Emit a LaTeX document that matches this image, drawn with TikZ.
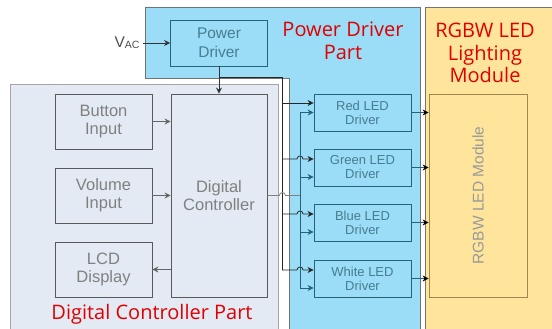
\documentclass[tikz,border=0pt]{standalone}
\usepackage{fontspec}
\setmainfont{Liberation Sans}
\newfontfamily\partfont{Open Sans}
\usetikzlibrary{arrows.meta}
\definecolor{pdblue}{RGB}{155,221,246}
\definecolor{dcgrey}{RGB}{227,234,244}
\definecolor{ledyellow}{RGB}{255,229,156}
\definecolor{wire}{RGB}{38,98,120}
\definecolor{wiretext}{RGB}{70,125,145}
\definecolor{partred}{RGB}{224,0,0}
\definecolor{modline}{RGB}{160,135,80}
\tikzset{
  box/.style={draw=black!65, fill=dcgrey, text=black!50, align=center, inner sep=0pt,
    font=\fontsize{16.5}{18}\selectfont},
  drv/.style={draw=wire, fill=pdblue, text=wiretext, align=center, inner sep=0pt,
    minimum width=97pt, minimum height=37pt, font=\fontsize{13}{14}\selectfont},
  part/.style={text=partred, align=center, font=\partfont\fontsize{20}{22.5}\selectfont},
}
\begin{document}
\begin{tikzpicture}[>={Stealth[length=6pt,width=6pt]}, thick, x=1pt, y=-1pt]
\useasboundingbox (0,0) rectangle (552,329);
\filldraw[fill=dcgrey, draw=black!35] (10,84) rectangle (278,335);
\filldraw[fill=pdblue, draw=black!55] (145,7) -- (420,7) -- (420,335) -- (289,335) -- (289,78) -- (145,78) -- cycle;
\filldraw[fill=ledyellow, draw=black!55] (425,7) rectangle (560,335);

\node[part] (pdpart) at (343,41) {Power Driver\\Part};
\node[part] (ledpart) at (485,53) {RGBW LED\\Lighting\\Module};
\node[part] (dcpart) at (152,314) {Digital Controller Part};

\node[box, minimum width=97pt, minimum height=55pt] (btn) at (103.5,121.5) {Button\\Input};
\node[box, minimum width=97pt, minimum height=55pt] (vol) at (103.5,195.5) {Volume\\Input};
\node[box, minimum width=97pt, minimum height=55pt] (lcd) at (103.5,269.5) {LCD\\Display};
\node[box, minimum width=96pt, minimum height=203pt] (dc) at (219,195.5) {Digital\\Controller};
\node[drv, minimum height=46pt, font=\fontsize{15.5}{19}\selectfont] (pwr) at (219,43) {Power\\Driver};
\node[text=black!70, font=\fontsize{15.5}{16}\selectfont] (vac) at (127,43) {V\raisebox{-1pt}{\fontsize{10.5}{11}\selectfont AC}};
\node[draw=modline, text=black!40, rotate=90, minimum width=203pt, minimum height=98pt,
  font=\fontsize{15.5}{16}\selectfont] (mod) at (478,195.5) {RGBW LED Module};

\foreach \n/\t/\y in {red/Red/112.5, green/Green/167.5, blue/Blue/222.5, white/White/278.5}
{
    \node[drv] (\n) at (362.5,\y) {\t\ LED\\Driver};
    \coordinate (\n-pin) at ([yshift=8.5pt]\n.west);
    \coordinate (\n-cin) at ([yshift=-9.5pt]\n.west);
    \draw[-{Stealth[length=6pt,width=6pt,black]}, wire] (\n) -- (\n -| mod.north);
}

\draw[->, black!80] (vac) -- (pwr);
\draw[->, black!80] (pwr) -- (dc);
\draw[->, black!60] (btn) -- (btn -| dc.west);
\draw[->, black!60] (vol) -- (vol -| dc.west);
\draw[->, black!60] (dc.west |- lcd) -- (lcd);

\coordinate (pbus) at (282,77);
\coordinate (cbus) at (300,112.5);
\draw[black!85] (pwr.south |- pbus) -- (pbus) -- (white-pin -| pbus);
\draw[->, black!85] ([yshift=1pt]red-pin -| pbus) -- ([yshift=1pt]red-pin);
\foreach \n in {green,blue,white}
{
    \draw[->, black!85] (\n-pin -| pbus) -- +(15,0) arc[start angle=180, end angle=0, radius=3pt] -- (\n-pin);
}
\draw[wire] (cbus) -- (white-cin -| cbus);
\draw[->, wire] (cbus) -- (red.west);
\foreach \n in {green,blue,white}
{
    \draw[->, wire] (\n-cin -| cbus) -- (\n-cin);
}
\draw[black!50] (dc.east) -- ++(12,0) arc[start angle=180, end angle=0, radius=3pt] -- (dc.east -| cbus);
\end{tikzpicture}
\end{document}
